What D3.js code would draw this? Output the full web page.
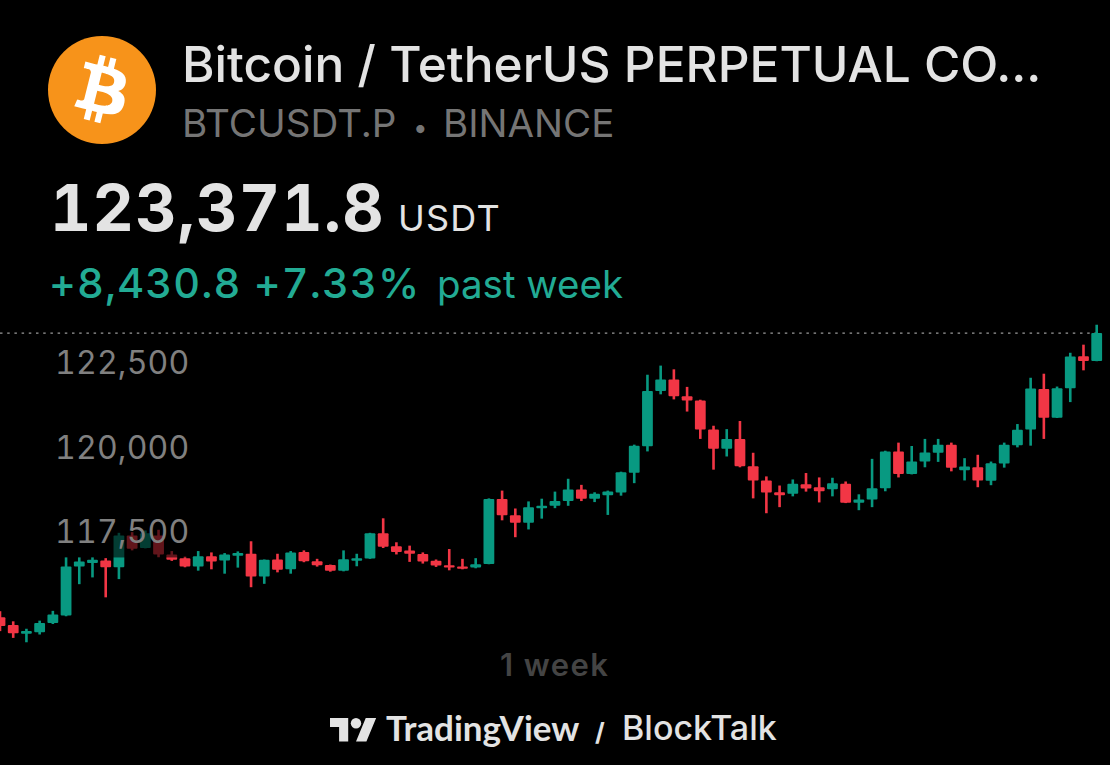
<!DOCTYPE html>
<html>
<head>
<meta charset="utf-8">
<script src="https://cdn.jsdelivr.net/npm/d3@7"></script>
<style>
  html, body { margin: 0; padding: 0; background: #000; overflow: hidden; }
  text { font-family: Inter, "Noto Sans", sans-serif; }
  .num { font-feature-settings: 'tnum' 1; }
</style>
</head>
<body>
<svg id="chart" width="1110" height="765"></svg>
<script>
// 2h candles over one week
const opens = [
  114960,114730,114470,114520,114790,115010,116460,116570,116640,116440,
  117380,117010,117380,116820,116710,116460,116770,116640,116780,116840,
  116170,116670,116380,116890,116620,116510,116340,116630,116700,117450,
  117060,116940,116830,116630,116500,116460,116430,116540,118460,117980,
  117760,118190,118260,118400,118740,118470,118570,118650,119240,120020,
  121660,122000,121500,121380,120520,119950,120240,119430,119010,118660,
  118620,118900,118810,118750,118910,118350,118450,118780,119870,119200,
  119570,119830,120070,119310,119400,119000,119510,120050,120520,121720,
  120870,121740,122690,122550
]
const closes = [
  114700,114490,114550,114790,115040,116460,116610,116660,116440,117380,
  116990,117450,116820,116660,116460,116770,116610,116820,116860,116170,
  116660,116370,116880,116620,116500,116340,116680,116710,117450,117050,
  116890,116840,116610,116490,116430,116400,116530,118460,117980,117760,
  118220,118260,118400,118740,118470,118620,118680,119250,120040,121660,
  122000,121500,121380,120520,119950,120240,119430,119010,118650,118570,
  118910,118770,118690,118930,118350,118450,118780,119870,119200,119570,
  119840,120070,119390,119420,119010,119520,120070,120510,121730,120870,
  121740,122680,122550,123371.8
]
const highs = [
  115140,114840,114620,114860,115150,116740,116740,116740,116710,117460,
  117480,117530,117550,116920,116760,116920,116880,116860,116910,117210,
  116670,116840,116920,116940,116690,116520,116940,116840,117460,117890,
  117180,117080,116880,116670,116980,116690,116710,118480,118710,118180,
  118390,118470,118680,119060,118880,118660,118710,119270,120070,122140,
  122410,122300,121780,121400,120630,120530,120770,119830,119130,118860,
  119040,119230,119100,119090,118980,118600,119650,119890,120130,120030,
  120240,120240,120130,119670,119770,119570,120130,120680,122050,122170,
  121790,122790,123030,123620
]
const lows = [
  114550,114350,114220,114450,114760,114990,115940,116140,115550,116090,
  116940,117000,116740,116630,116440,116340,116380,116250,116430,115850,
  115950,116290,116250,116590,116460,116310,116320,116470,116690,117010,
  116820,116600,116550,116450,116350,116380,116410,116530,117830,117330,
  117560,117880,118190,118260,118400,118370,117990,118560,118930,119870,
  121560,121410,121050,120240,119330,119720,119400,118480,118040,118220,
  118540,118680,118360,118540,118340,118130,118220,118690,119100,119190,
  119400,119560,119280,119010,118810,118870,119390,119990,120040,120240,
  120860,121330,122270,122540
]
const priceTicks = [122500, 120000, 117500]
const lastPrice = 123371.8

const UP = '#089981'
const DOWN = '#f23645'
const BODY_W = 10.8
const WICK_W = 2.6

const svg = d3.select('#chart')
const candles = opens.map((open, i) => ({ i, open, close: closes[i], high: highs[i], low: lows[i] }))

const x = d3.scalePoint().domain(candles.map(d => d.i)).range([0, 1096.7])
const y = d3.scaleLinear().domain([114000, 124000]).range([649.7, 311.9])

function addText(px, py, str, size, weight, fill, spacing) {
  return svg.append('text')
    .attr('x', px)
    .attr('y', py)
    .attr('font-size', size)
    .attr('font-weight', weight)
    .attr('fill', fill)
    .attr('letter-spacing', spacing || 0)
    .text(str)
}

// header
svg.append('circle').attr('cx', 102).attr('cy', 90).attr('r', 54).attr('fill', '#f7931a')
svg.append('path')
  .attr('transform', 'translate(48,36) scale(1.6875)')
  .attr('fill', '#fff')
  .attr('d', 'M46.1 27.441c.638-4.258-2.606-6.547-7.039-8.074l1.438-5.768-3.512-.875-1.4 5.616c-.922-.23-1.87-.447-2.812-.662l1.41-5.653-3.509-.875-1.439 5.766c-.764-.174-1.514-.346-2.242-.527l.004-.018-4.842-1.209-.934 3.75s2.605.597 2.55.634c1.422.355 1.68 1.296 1.636 2.042l-1.638 6.571c.098.025.225.061.365.117l-.37-.092-2.297 9.205c-.174.432-.615 1.08-1.609.834.035.051-2.552-.637-2.552-.637l-1.743 4.02 4.57 1.139c.85.213 1.683.436 2.502.646l-1.453 5.835 3.507.875 1.44-5.772c.957.26 1.887.5 2.797.726L27.504 50.8l3.511.875 1.453-5.823c5.987 1.133 10.49.676 12.383-4.738 1.527-4.36-.075-6.875-3.225-8.516 2.294-.531 4.022-2.04 4.483-5.157zM38.08 38.69c-1.086 4.36-8.426 2.004-10.807 1.412l1.928-7.729c2.38.594 10.011 1.77 8.88 6.317zm1.085-11.312c-.99 3.966-7.1 1.951-9.083 1.457l1.748-7.01c1.983.494 8.367 1.416 7.335 5.553z')

addText(182, 82, 'Bitcoin / TetherUS PERPETUAL CO...', 49.6, 500, '#e3e3e3')
addText(182, 137, 'BTCUSDT.P', 38.6, 400, '#757575')
addText(413, 137, '•', 26, 400, '#757575')
addText(443, 137, 'BINANCE', 38.5, 400, '#757575')
addText(50, 231, '123,371.8', 64, 700, '#e3e3e3', 1.2).attr('class', 'num')
addText(398, 231, 'USDT', 36, 400, '#e3e3e3', 1.2)
addText(49, 298, '+8,430.8 +7.33%', 41.5, 500, '#22ab94', 1.1).attr('class', 'num')
addText(437, 298, 'past week', 38.5, 400, '#22ab94')

// last price line
svg.append('line')
  .attr('x1', 0)
  .attr('x2', x(candles.length - 1))
  .attr('y1', y(lastPrice))
  .attr('y2', y(lastPrice))
  .attr('stroke', '#9a9a9a')
  .attr('stroke-width', 1.3)
  .attr('stroke-dasharray', '2.5 4.7')

// candles
const candleG = svg.append('g')
candleG.selectAll('.wick').data(candles).enter().append('rect')
  .attr('class', 'wick')
  .attr('x', d => x(d.i) - WICK_W / 2)
  .attr('width', WICK_W)
  .attr('y', d => y(d.high))
  .attr('height', d => y(d.low) - y(d.high))
  .attr('fill', d => d.close >= d.open ? UP : DOWN)

candleG.selectAll('.body').data(candles).enter().append('rect')
  .attr('class', 'body')
  .attr('x', d => x(d.i) - BODY_W / 2)
  .attr('width', BODY_W)
  .attr('y', d => y(Math.max(d.open, d.close)))
  .attr('height', d => Math.abs(y(d.open) - y(d.close)))
  .attr('rx', 1)
  .attr('fill', d => d.close >= d.open ? UP : DOWN)

// price labels sit on a translucent plate that dims the candles behind them
svg.selectAll('.plate').data(priceTicks).enter().append('rect')
  .attr('class', 'plate')
  .attr('x', 50)
  .attr('width', 142)
  .attr('y', d => y(d) - 26)
  .attr('height', 52)
  .attr('fill', '#000')
  .attr('opacity', 0.6)

const axis = svg.append('g')
  .attr('transform', 'translate(55,1)')
  .call(d3.axisRight(y).tickValues(priceTicks).tickSize(0).tickPadding(0).tickFormat(d3.format(',')))
axis.select('.domain').remove()
axis.selectAll('text')
  .attr('class', 'num')
  .attr('font-size', 32)
  .attr('font-family', 'Inter')
  .attr('letter-spacing', 0.2)
  .attr('fill', '#808080')

// footer
addText(500, 676, '1 week', 31, 600, '#444', 1.4)

const logo = svg.append('g').attr('transform', 'translate(330,712.8) scale(1.3)').attr('fill', '#e3e3e3')
logo.append('path').attr('d', 'M14 22H7V11H0V4h14v18zM28 22h-8l7.5-18h8L28 22z')
logo.append('circle').attr('cx', 20).attr('cy', 8).attr('r', 4)

addText(386, 741, 'TradingView', 35, 700, '#e3e3e3').style('font-family', 'Lato')
addText(595, 741, '/', 25, 700, '#e3e3e3')
addText(622, 740, 'BlockTalk', 34, 500, '#e3e3e3')
</script>
</body>
</html>
